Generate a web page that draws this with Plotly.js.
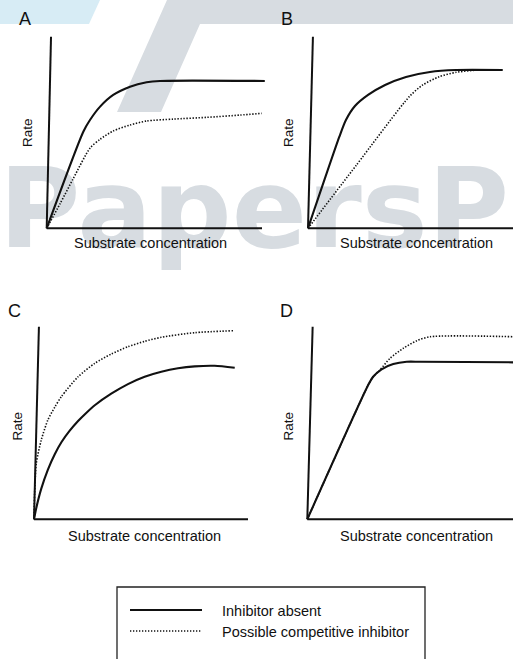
<!DOCTYPE html>
<html>
<head>
<meta charset="utf-8">
<script src="https://cdn.plot.ly/plotly-3.0.1.min.js"></script>
<style>html,body{margin:0;padding:0;background:#fff;}#chart{width:513px;height:659px;}</style>
</head>
<body>
<div id="chart"></div>
<script>
// ---------- data (relative units, 0-100 on each axis) ----------
// Panel A
const aConcSolid  = [0, 17.0, 20.1, 24.8, 30.9, 38.7, 46.4, 52.6, 101.3];
const aRateSolid  = [0, 50.4, 56.5, 63.5, 69.6, 73.9, 76.2, 76.9, 76.9];
const aConcDotted = [0, 6.2, 12.4, 20.1, 24.8, 30.9, 38.7, 46.4, 58.8, 74.3, 89.8, 99.9];
const aRateDotted = [0, 12.8, 26.1, 41.8, 46.5, 50.8, 53.9, 56.0, 57.0, 57.9, 59.1, 60.0];
// Panel B
const bConcSolid  = [0, 15.3, 18.5, 22.9, 29.3, 37.6, 47.8, 59.5, 72.2, 95.0];
const bRateSolid  = [0, 47.8, 56.5, 63.8, 69.6, 74.8, 79.0, 81.6, 82.6, 82.6];
const bConcDotted = [0, 23.4, 49.4, 55.9, 64.0, 72.2, 82.0];
const bRateDotted = [0, 32.7, 68.7, 74.8, 79.1, 81.4, 82.6];
// Panel C
const cConcSolid  = [0, 1.07, 3.4, 6.5, 9.7, 12.8, 16.7, 20.6, 24.4, 28.4, 36.1, 43.9, 51.7, 59.5, 67.3, 75.1, 84.4, 93.8];
const cRateSolid  = [0, 5.9, 15.9, 25.8, 33.8, 40.0, 46.0, 51.0, 55.2, 59.2, 65.2, 70.2, 74.0, 76.6, 78.4, 79.4, 79.7, 78.7];
const cConcDotted = [0, 0.3, 1.07, 3.4, 6.5, 9.7, 12.8, 20.6, 28.4, 36.1, 43.9, 51.7, 59.5, 75.1, 93.0];
const cRateDotted = [0, 13.5, 29.1, 41.2, 51.6, 58.2, 63.7, 74.0, 81.0, 85.8, 89.6, 92.4, 94.5, 96.9, 97.9];
// Panel D
const dConcSolid  = [0, 29.6, 32.0, 36.1, 41.8, 48.3, 54.8, 100];
const dRateSolid  = [0, 69.7, 74.0, 77.9, 80.6, 81.8, 81.8, 81.5];
const dConcDotted = [0, 29.6, 32.0, 35.3, 40.2, 46.7, 53.2, 59.7, 100];
const dRateDotted = [0, 69.7, 74.0, 77.5, 83.6, 88.8, 92.7, 94.8, 94.8];

// ---------- text ----------
const panelLetters = ['A', 'B', 'C', 'D'];
const xTitle = 'Substrate concentration';
const yTitle = 'Rate';
const legendNames = ['Inhibitor absent', 'Possible competitive inhibitor'];
const watermarkText = 'PapersPlease';

// ---------- layout helpers ----------
const W = 513, H = 659;
const FONT = 'Liberation Sans, Arial, Helvetica, sans-serif';
const INK = '#111111';
const px = v => v / W;
const py = v => 1 - v / H;

// panel geometry: origin pixel, pixels per unit, lean of the drawn rate axis
const panels = [
  {ox: 46.7,  oy: 228.3, sx: 2.153, sy: 1.916, xmax: 104, lean: 2.0,
   letter: [24.5, 19.5], rate: [27.5, 132.5], conc: [150.5, 243.5],
   solid: [aConcSolid, aRateSolid], dotted: [aConcDotted, aRateDotted]},
  {ox: 308,   oy: 228.3, sx: 2.05,  sy: 1.916, xmax: 100, lean: 2.4,
   letter: [286.5, 19.5], rate: [288.5, 132.5], conc: [416, 243.5],
   solid: [bConcSolid, bRateSolid], dotted: [bConcDotted, bRateDotted]},
  {ox: 34,    oy: 519.3, sx: 2.14,  sy: 1.926, xmax: 104, lean: 2.3,
   letter: [14.5, 311], rate: [17.5, 426], conc: [144.5, 535.5],
   solid: [cConcSolid, cRateSolid], dotted: [cConcDotted, cRateDotted]},
  {ox: 307.3, oy: 519.3, sx: 2.057, sy: 1.926, xmax: 100, lean: 2.6,
   letter: [286.5, 311], rate: [288.5, 426], conc: [416, 535.5],
   solid: [dConcSolid, dRateSolid], dotted: [dConcDotted, dRateDotted]}
];

const clamp = v => Math.max(0, Math.min(1, v));
const traces = [];
const shapes = [];
const annotations = [];
const layout = {
  width: W, height: H,
  margin: {l: 0, r: 0, t: 0, b: 0},
  paper_bgcolor: '#ffffff',
  plot_bgcolor: 'rgba(0,0,0,0)',
  showlegend: false,
  font: {family: FONT, color: INK},
  // background axis for the watermark
  xaxis: {domain: [0, 1], range: [0, W], visible: false, fixedrange: true},
  yaxis: {domain: [0, 1], range: [H, 0], visible: false, fixedrange: true}
};

// watermark (decoration behind everything)
shapes.push({type: 'path', xref: 'x', yref: 'y', layer: 'below', line: {width: 0},
  fillcolor: '#d7ecf5', path: 'M0,0 L100,0 L89,24 L0,24 Z'});
shapes.push({type: 'path', xref: 'x', yref: 'y', layer: 'below', line: {width: 0},
  fillcolor: '#d7dce1', path: 'M167,0 L513,0 L513,24 L200,24 L161,112 L117,112 Z'});
traces.push({type: 'scatter', mode: 'text', x: [-1], y: [219], text: [watermarkText],
  textposition: 'middle right', xaxis: 'x', yaxis: 'y', hoverinfo: 'skip', cliponaxis: true,
  textfont: {family: 'DejaVu Sans, sans-serif', size: 111, color: '#d7dce1', weight: 'bold'}});

panels.forEach((p, i) => {
  const n = i + 2;
  const xa = 'xaxis' + n, ya = 'yaxis' + n;
  const xr = [-3, p.xmax], yr = [-3, 104];
  layout[xa] = {
    domain: [clamp((p.ox + xr[0] * p.sx) / W), clamp((p.ox + xr[1] * p.sx) / W)],
    range: xr, visible: false, fixedrange: true, anchor: 'y' + n
  };
  layout[ya] = {
    domain: [clamp(1 - (p.oy - yr[0] * p.sy) / H), clamp(1 - (p.oy - yr[1] * p.sy) / H)],
    range: yr, visible: false, fixedrange: true, anchor: 'x' + n
  };
  // drawn axes
  shapes.push({type: 'line', xref: 'x' + n, yref: 'y' + n, x0: 0, y0: 0, x1: 100, y1: 0,
    line: {color: INK, width: 2}});
  shapes.push({type: 'line', xref: 'x' + n, yref: 'y' + n, x0: 0, y0: 0, x1: p.lean, y1: 100,
    line: {color: INK, width: 2}});
  // curves
  traces.push({type: 'scatter', mode: 'lines', x: p.dotted[0], y: p.dotted[1],
    xaxis: 'x' + n, yaxis: 'y' + n, name: legendNames[1], hoverinfo: 'skip',
    line: {color: INK, width: 1.6, dash: '1.4px,1.6px', shape: 'spline', smoothing: 0.7}});
  traces.push({type: 'scatter', mode: 'lines', x: p.solid[0], y: p.solid[1],
    xaxis: 'x' + n, yaxis: 'y' + n, name: legendNames[0], hoverinfo: 'skip',
    line: {color: INK, width: 2.1, shape: 'spline', smoothing: 0.7}});
  // text
  annotations.push({xref: 'paper', yref: 'paper', x: px(p.letter[0]), y: py(p.letter[1]),
    text: panelLetters[i], showarrow: false, xanchor: 'center', yanchor: 'middle',
    font: {family: FONT, size: 18, color: INK}});
  annotations.push({xref: 'paper', yref: 'paper', x: px(p.rate[0]), y: py(p.rate[1]),
    text: yTitle, textangle: -90, showarrow: false, xanchor: 'center', yanchor: 'middle',
    font: {family: FONT, size: 13.5, color: INK}});
  annotations.push({xref: 'paper', yref: 'paper', x: px(p.conc[0]), y: py(p.conc[1]),
    text: xTitle, showarrow: false, xanchor: 'center', yanchor: 'middle',
    font: {family: FONT, size: 14.5, color: INK}});
});

// legend box (open at the bottom edge of the picture)
shapes.push({type: 'rect', xref: 'paper', yref: 'paper', x0: px(117), x1: px(425), y0: py(668), y1: py(587),
  line: {color: '#222', width: 1.3}, fillcolor: 'rgba(0,0,0,0)'});
shapes.push({type: 'line', xref: 'paper', yref: 'paper', x0: px(130), x1: px(202), y0: py(610), y1: py(610),
  line: {color: INK, width: 2}});
shapes.push({type: 'line', xref: 'paper', yref: 'paper', x0: px(130), x1: px(202), y0: py(631), y1: py(631),
  line: {color: INK, width: 1.3, dash: '1.3px,1.7px'}});
annotations.push({xref: 'paper', yref: 'paper', x: px(220), y: py(610.5), text: legendNames[0],
  showarrow: false, xanchor: 'left', yanchor: 'middle', font: {family: FONT, size: 14.5, color: INK}});
annotations.push({xref: 'paper', yref: 'paper', x: px(220), y: py(631.5), text: legendNames[1],
  showarrow: false, xanchor: 'left', yanchor: 'middle', font: {family: FONT, size: 14.5, color: INK}});

layout.shapes = shapes;
layout.annotations = annotations;

Plotly.newPlot('chart', traces, layout, {staticPlot: true, displayModeBar: false});
</script>
</body>
</html>
